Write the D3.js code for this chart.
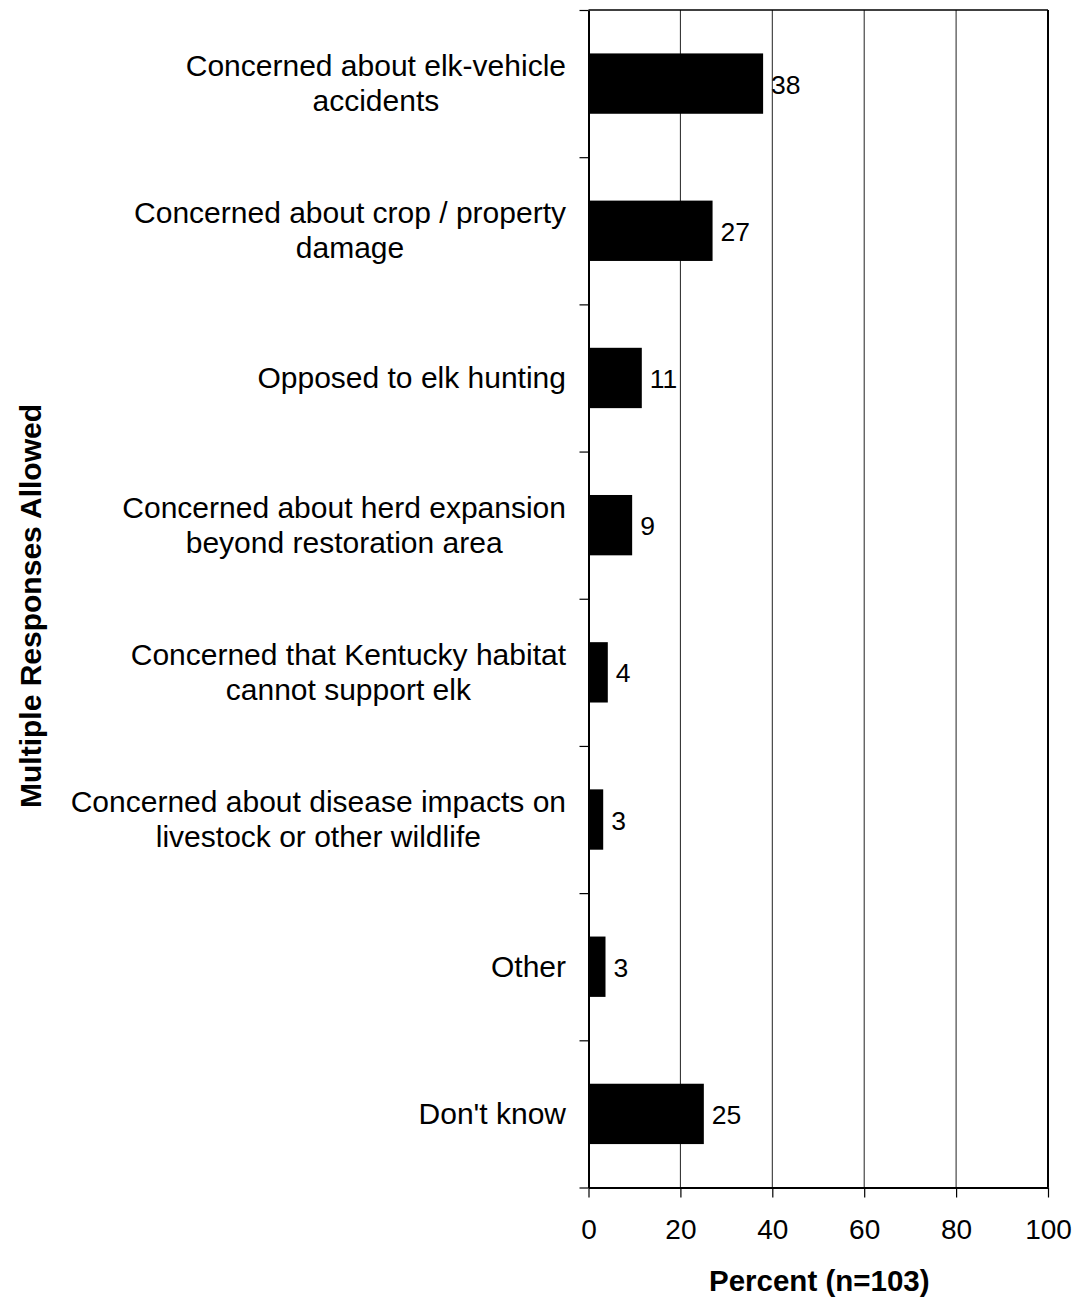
<!DOCTYPE html>
<html>
<head>
<meta charset="utf-8">
<script src="https://cdn.jsdelivr.net/npm/d3@7"></script>
<style>
  html, body { margin: 0; padding: 0; background: #fff; }
  svg { display: block; }
  text { font-family: "Liberation Sans", Arial, sans-serif; fill: #000; }
</style>
</head>
<body>
<svg id="chart" width="1078" height="1299"></svg>
<script>
// ---- data ----
const categories = [
  ["Concerned about elk-vehicle", "accidents"],
  ["Concerned about crop / property", "damage"],
  ["Opposed to elk hunting"],
  ["Concerned about herd expansion", "beyond restoration area"],
  ["Concerned that Kentucky habitat", "cannot support elk"],
  ["Concerned about disease impacts on", "livestock or other wildlife"],
  ["Other"],
  ["Don't know"]
];
const values = [38, 27, 11.6, 9.5, 4.2, 3.2, 3.7, 25.1];
const valueLabels = ["38", "27", "11", "9", "4", "3", "3", "25"];
const xTicks = [0, 20, 40, 60, 80, 100];
const xTitle = "Percent (n=103)";
const yTitle = "Multiple Responses Allowed";

// ---- layout ----
const svg = d3.select("#chart");
const pLeft = 588.5, pRight = 1048, pTop = 10, pBottom = 1187.5;

const x = d3.scaleLinear().domain([0, 100]).range([pLeft, pRight]);
const y = d3.scaleBand().domain(d3.range(categories.length)).range([pTop, pBottom])
  .paddingInner(0.59).paddingOuter(0.295);

// gridlines
svg.append("g").selectAll("line").data(xTicks.filter(d => d > 0 && d < 100)).join("line")
  .attr("x1", d => x(d)).attr("x2", d => x(d))
  .attr("y1", pTop).attr("y2", pBottom)
  .attr("stroke", "#222").attr("stroke-width", 1);

// bars
svg.append("g").selectAll("rect").data(values).join("rect")
  .attr("x", x(0))
  .attr("y", (d, i) => y(i))
  .attr("width", d => x(d) - x(0))
  .attr("height", y.bandwidth())
  .attr("fill", "#000");

// value labels
svg.append("g").selectAll("text").data(values).join("text")
  .attr("x", d => x(d) + 8)
  .attr("y", (d, i) => y(i) + y.bandwidth() / 2 + 10)
  .attr("font-size", 26.5)
  .text((d, i) => valueLabels[i]);

// frame (top and right)
svg.append("line").attr("x1", pLeft).attr("x2", pRight).attr("y1", pTop).attr("y2", pTop)
  .attr("stroke", "#000").attr("stroke-width", 1.5);
svg.append("line").attr("x1", pRight).attr("x2", pRight).attr("y1", pTop).attr("y2", pBottom)
  .attr("stroke", "#000").attr("stroke-width", 2);

// x axis
const xAxis = d3.axisBottom(x).tickValues(xTicks).tickSize(10).tickPadding(22).tickSizeOuter(0);
const gx = svg.append("g").attr("transform", `translate(0,${pBottom})`).call(xAxis);
gx.select(".domain").attr("stroke", "#000").attr("stroke-width", 2);
gx.selectAll(".tick line").attr("stroke", "#000").attr("stroke-width", 1.2);
gx.selectAll(".tick text").attr("font-size", 28).attr("font-family", "Liberation Sans, Arial, sans-serif").attr("fill", "#000");

// y axis: ticks at band boundaries
const yLin = d3.scaleLinear().domain([0, categories.length]).range([pTop, pBottom]);
const yAxis = d3.axisLeft(yLin).tickValues(d3.range(categories.length + 1)).tickSize(9).tickFormat("").tickSizeOuter(0);
const gy = svg.append("g").attr("transform", `translate(${pLeft},0)`).call(yAxis);
gy.select(".domain").attr("stroke", "#000").attr("stroke-width", 2);
gy.selectAll(".tick line").attr("stroke", "#000").attr("stroke-width", 1.2);

// category labels: centered block, right edge at labelRight
const lineH = 35;
const labelRight = 566;
const catG = svg.append("g");
categories.forEach((lines, i) => {
  const cy = y(i) + y.bandwidth() / 2;
  const startY = cy + 10 - (lines.length - 1) * lineH / 2;
  const t = catG.append("text").attr("text-anchor", "middle").attr("font-size", 30);
  const spans = lines.map((ln, j) =>
    t.append("tspan").attr("y", startY + j * lineH).text(ln));
  const maxW = d3.max(spans, s => s.node().getComputedTextLength());
  spans.forEach(s => s.attr("x", labelRight - maxW / 2));
});

// axis titles
svg.append("text").attr("x", (pLeft + pRight) / 2 + 1).attr("y", 1291)
  .attr("text-anchor", "middle").attr("font-size", 29.5).attr("font-weight", "bold")
  .text(xTitle);
svg.append("text")
  .attr("transform", `translate(41,${606}) rotate(-90)`)
  .attr("text-anchor", "middle").attr("font-size", 30).attr("font-weight", "bold")
  .text(yTitle);
</script>
</body>
</html>
